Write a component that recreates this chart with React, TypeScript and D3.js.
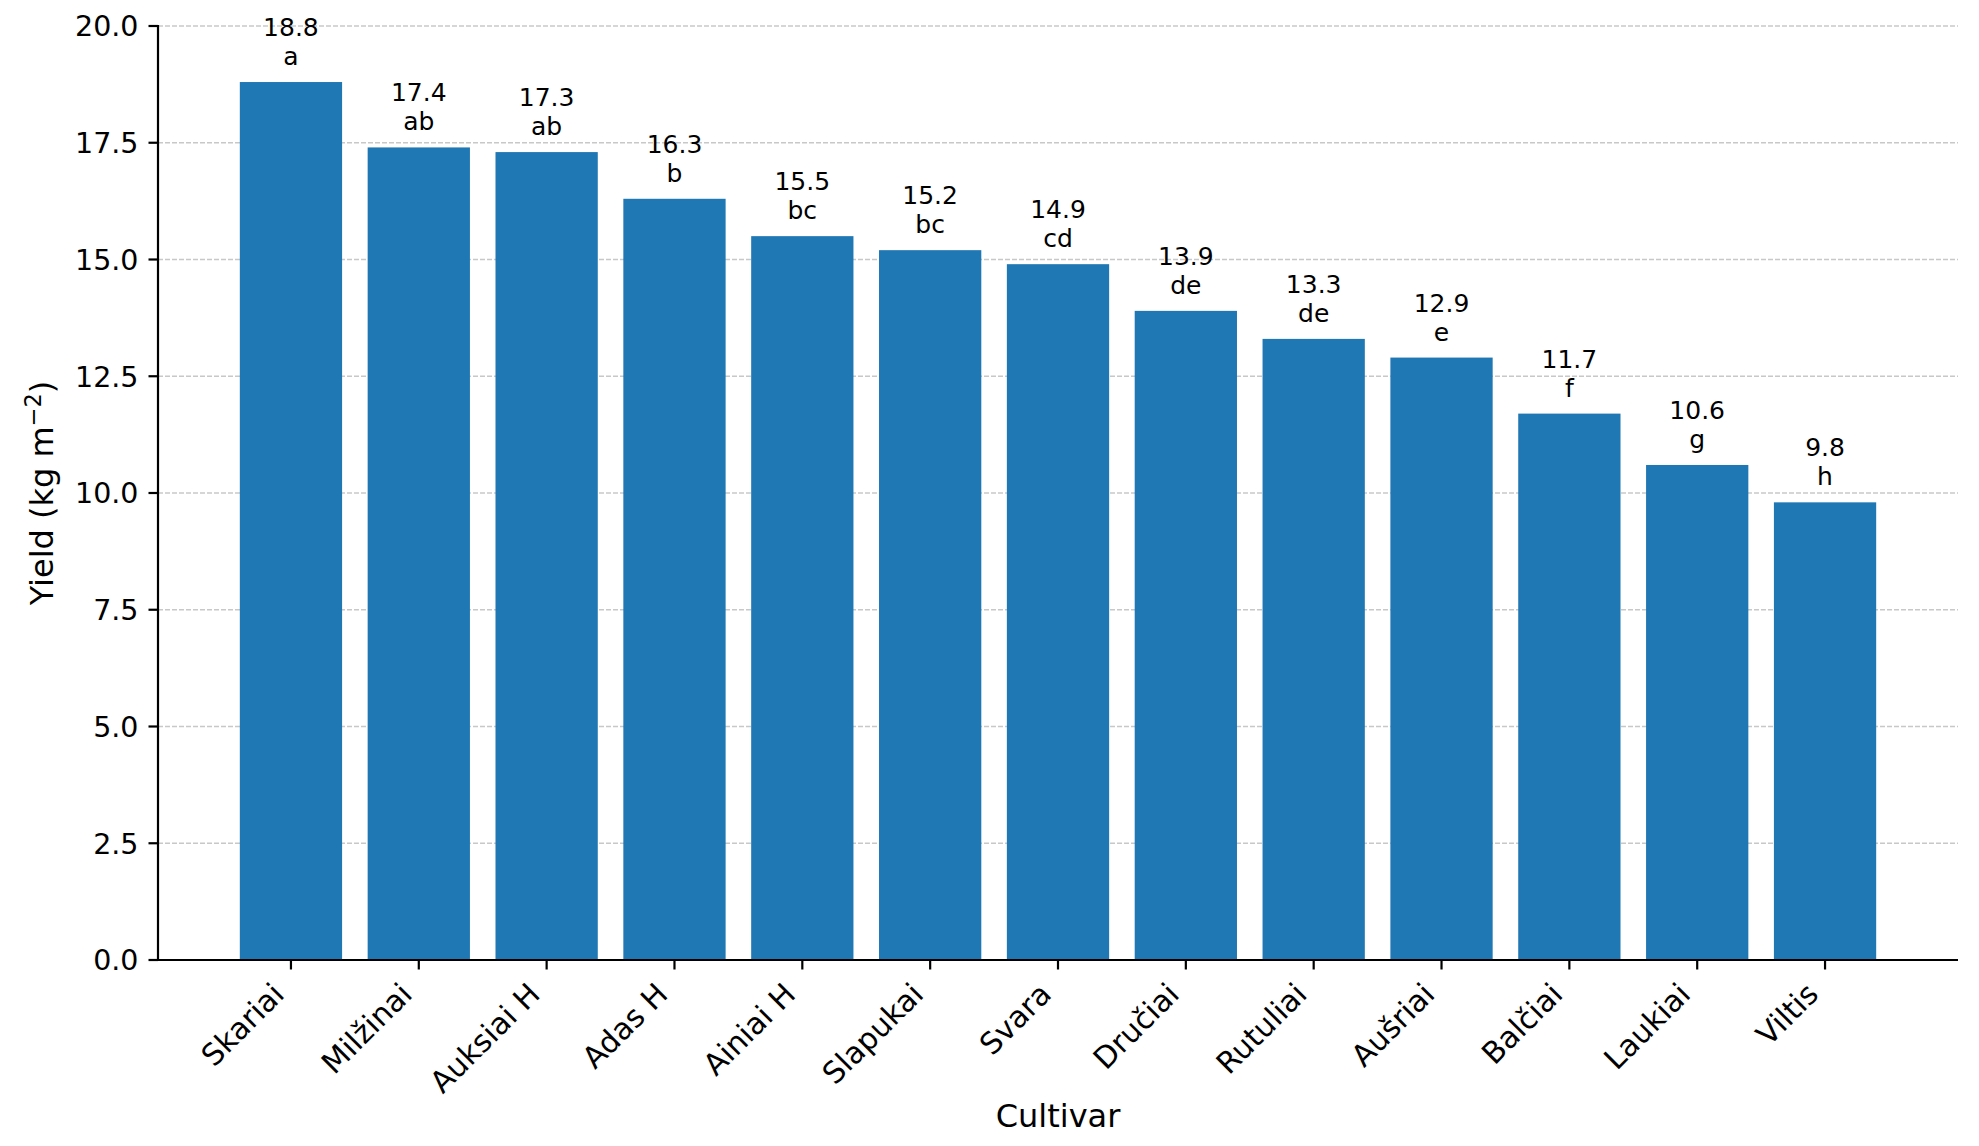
import * as d3 from 'd3';

const CULTIVARS = ['Skariai', 'Milžinai', 'Auksiai H', 'Adas H', 'Ainiai H', 'Slapukai', 'Svara', 'Dručiai', 'Rutuliai', 'Aušriai', 'Balčiai', 'Laukiai', 'Viltis'];
const YIELDS = [18.8, 17.4, 17.3, 16.3, 15.5, 15.2, 14.9, 13.9, 13.3, 12.9, 11.7, 10.6, 9.8];
const LETTERS = ['a', 'ab', 'ab', 'b', 'bc', 'bc', 'cd', 'de', 'de', 'e', 'f', 'g', 'h'];
const Y_TICKS = [0, 2.5, 5, 7.5, 10, 12.5, 15, 17.5, 20];

const WIDTH = 1979;
const HEIGHT = 1146;
const margin = { left: 158, right: 21, top: 26, bottom: 186 };
const FONT = '"DejaVu Sans", sans-serif';
const BAR_COLOR = '#1f77b4';

export default function App() {
  const x = d3.scaleBand<string>()
    .domain(CULTIVARS)
    .range([margin.left, WIDTH - margin.right])
    .paddingInner(0.2)
    .paddingOuter(0.64);

  const y = d3.scaleLinear()
    .domain([0, 20])
    .range([HEIGHT - margin.bottom, margin.top]);

  const x0 = margin.left;
  const x1 = WIDTH - margin.right;
  const yBase = y(0);

  return (
    <div style={{ position: 'absolute', left: 0, top: 0 }}>
      <svg width={WIDTH} height={HEIGHT} style={{ display: 'block', background: '#fff' }} fontFamily={FONT}>
        {/* grid, below bars */}
        {Y_TICKS.map(t => (
          <line key={'g' + t} x1={x0} x2={x1} y1={y(t)} y2={y(t)}
            stroke="#b0b0b0" strokeOpacity={0.7} strokeWidth={1.4} strokeDasharray="5,2" />
        ))}

        {/* bars */}
        {CULTIVARS.map((c, i) => (
          <rect key={c} x={x(c)} y={y(YIELDS[i])} width={x.bandwidth()}
            height={yBase - y(YIELDS[i])} fill={BAR_COLOR} />
        ))}

        {/* value + significance letters */}
        {CULTIVARS.map((c, i) => {
          const cx = (x(c) ?? 0) + x.bandwidth() / 2;
          const top = y(YIELDS[i]);
          return (
            <g key={'l' + c} fontSize={25} textAnchor="middle" fill="#000">
              <text x={cx} y={top - 46}>{YIELDS[i].toFixed(1)}</text>
              <text x={cx} y={top - 17}>{LETTERS[i]}</text>
            </g>
          );
        })}

        {/* y axis */}
        <line x1={x0} x2={x0} y1={margin.top - 1} y2={yBase + 1} stroke="#000" strokeWidth={2.2} />
        {Y_TICKS.map(t => (
          <g key={'yt' + t}>
            <line x1={x0 - 9.5} x2={x0} y1={y(t)} y2={y(t)} stroke="#000" strokeWidth={2.2} />
            <text x={x0 - 19.5} y={y(t)} dy="0.36em" textAnchor="end" fontSize={28.5} fill="#000">
              {t.toFixed(1)}
            </text>
          </g>
        ))}

        {/* x axis */}
        <line x1={x0 - 1} x2={x1} y1={yBase} y2={yBase} stroke="#000" strokeWidth={2.2} />
        {CULTIVARS.map(c => {
          const cx = (x(c) ?? 0) + x.bandwidth() / 2;
          return (
            <g key={'xt' + c}>
              <line x1={cx} x2={cx} y1={yBase} y2={yBase + 9.5} stroke="#000" strokeWidth={2.2} />
              <text transform={`translate(${cx - 5},${yBase + 36}) rotate(-45)`}
                textAnchor="end" fontSize={30} fill="#000">{c}</text>
            </g>
          );
        })}

        {/* axis labels */}
        <text x={(x0 + x1) / 2} y={1127} textAnchor="middle" fontSize={32} fill="#000">Cultivar</text>
        <text transform={`translate(53,${(margin.top + yBase) / 2}) rotate(-90)`} textAnchor="middle" fontSize={32} fill="#000">
          Yield (kg m<tspan dy="-12" fontSize={22.5}>−2</tspan><tspan dy="12">)</tspan>
        </text>
      </svg>
    </div>
  );
}
